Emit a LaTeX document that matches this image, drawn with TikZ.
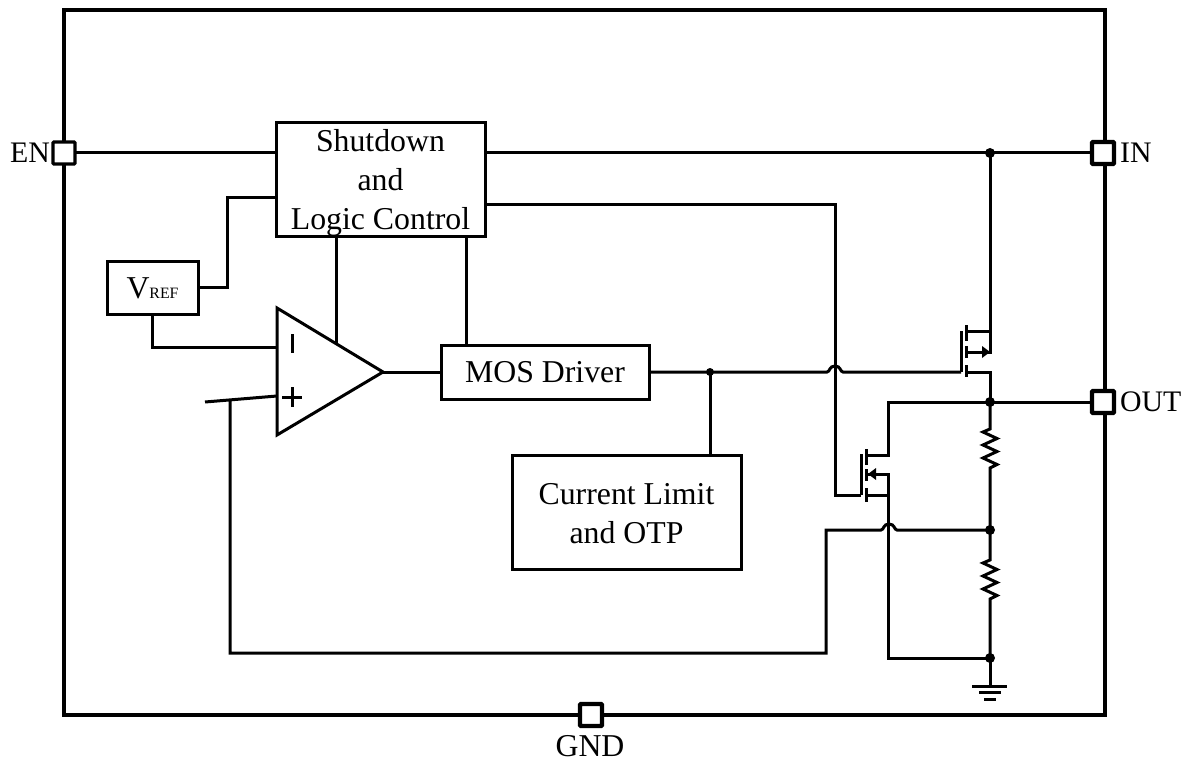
\documentclass[tikz,border=0pt]{standalone}
\usepackage{fontspec}
\setmainfont{Liberation Serif}
\begin{document}
\begin{tikzpicture}[x=1pt,y=-1pt,
  wire/.style={line width=3pt,line join=miter},
  frameline/.style={line width=4.6pt,line join=miter},
  blockbox/.style={draw,line width=3pt,fill=white,inner sep=0pt,align=center,font=\fontsize{31.8}{39}\selectfont},
  padbox/.style={draw,line width=3.2pt,fill=white,minimum size=22pt,inner sep=0pt,rounded corners=1pt},
  padheavy/.style={padbox,line width=4.4pt},
  pinlabel/.style={inner sep=0pt,font=\fontsize{29.8}{36}\selectfont},
  gndlabel/.style={inner sep=0pt,font=\fontsize{31.8}{38}\selectfont},
  joint/.style={circle,fill=black,draw=none,minimum size=10pt,inner sep=0pt},
  gnode/.style={inner sep=0pt,minimum size=0pt}]
\useasboundingbox (0,0) rectangle (1192,762);
\fill[white] (0,0) rectangle (1192,762);

% outer frame
\draw[frameline] (64,10) rectangle (1105,715);

% blocks
\node[blockbox,minimum width=209pt,minimum height=113pt] (sd) at (380.5,179.5) {\rule{0pt}{29pt}Shutdown\\and\\Logic Control};
\node[blockbox,minimum width=91pt,minimum height=53pt] (vref) at (152.5,288) {V{\fontsize{15.8}{20}\selectfont REF}};
\node[blockbox,minimum width=208pt,minimum height=54pt] (mos) at (545,372) {MOS Driver};
\node[blockbox,minimum width=229pt,minimum height=114pt] (cl) at (626.5,512) {\rule{0pt}{24pt}Current Limit\\and OTP};

% junctions
\node[joint] (jin) at (990,153) {};
\node[joint] (jout) at (990,402) {};
\node[joint] (jfb) at (990,530) {};
\node[joint] (jgnd) at (990,658) {};
\node[joint,minimum size=8pt] (jdrv) at (710,372) {};

% op amp
\coordinate (oatop) at (277,308);
\coordinate (oabot) at (277,435);
\coordinate (oaout) at (383,372);
\coordinate (oaminus) at (277,347);
\coordinate (oaplus) at (277,396);
\coordinate (oatap) at (336,343);
\coordinate (plusend) at (205,402);
\coordinate (plusknee) at (230,400);
\draw[wire,line join=miter] (oatop) -- (oaout) -- (oabot) -- cycle;
\draw[wire] (292,334) -- (292,353);
\draw[wire] (282,397) -- (302,397) (292,387) -- (292,407);

% pads' wires
\coordinate (enin) at (76,153);
\draw[wire] (enin) -- (sd.west|-enin);
\draw[wire] (sd.east|-jin) -- (jin.center) -- (1092,153);
\draw[wire] (jout.center) -- (1092,402);

% control wires
\coordinate (k1) at (227,288);
\coordinate (k2) at (227,198);
\draw[wire] (vref.east|-k1) -- (k1) -- (k2) -- (sd.west|-k2);
\coordinate (k3) at (152,347);
\draw[wire] (vref.south-|k3) -- (k3) -- (oaminus);
\draw[wire] (sd.south-|oatap) -- (oatap);
\coordinate (k4) at (466,300);
\draw[wire] (sd.south-|k4) -- (mos.north-|k4);
\draw[wire] (oaout) -- (mos.west|-oaout);

% plus input feedback
\draw[wire] (plusend) -- (oaplus);
\coordinate (k5) at (230,653);
\coordinate (k6) at (826,653);
\coordinate (k7) at (826,530);
\draw[wire] (plusknee) -- (k5) -- (k6) -- (k7) -- (881,530)
  .. controls (884,530) and (883,524) .. (889,524)
  .. controls (895,524) and (894,530) .. (897,530) -- (jfb.center);

% driver output with hop
\coordinate (g1) at (961,372);
\draw[wire] (mos.east|-jdrv) -- (jdrv.center) -- (827,372)
  .. controls (830,372) and (829,366) .. (835,366)
  .. controls (841,366) and (840,372) .. (843,372) -- (g1);
\draw[wire] (jdrv.center) -- (cl.north-|jdrv);

% gate of lower FET
\coordinate (k8) at (835,205);
\coordinate (k9) at (835,495);
\coordinate (g2) at (861,495);
\draw[wire] (sd.east|-k8) -- (k8) -- (k9) -- (g2);

% upper FET
\draw[wire] (961,331) -- (g1);
\draw[wire] (966,325) -- (966,341) (966,346) -- (966,358) (966,365) -- (966,377);
\draw[wire] (jin.center) -- (990,352) -- (966,352);
\draw[wire] (966,331) -- (990,331);
\draw[wire] (966,372) -- (990,372) -- (jout.center);
\fill (982,346) -- (990,352) -- (982,358) -- cycle;

% lower FET
\draw[wire] (861,454) -- (g2);
\draw[wire] (866,449) -- (866,465) (866,469) -- (866,481) (866,488) -- (866,502);
\draw[wire] (jout.center) -- (888,402) -- (888,455) -- (866,455);
\draw[wire] (866,474) -- (888,474) -- (888,658) -- (jgnd.center);
\draw[wire] (866,495) -- (888,495);
\fill (868,474) -- (876,468) -- (876,480) -- cycle;

% resistors
\draw[wire] (jout.center) -- (990,429) -- (983,432) -- (997,438.5) -- (983,445) -- (997,451.5) -- (983,458) -- (997,464.5) -- (990,468) -- (jfb.center);
\draw[wire] (jfb.center) -- (990,560) -- (983,563) -- (997,569.5) -- (983,576) -- (997,582.5) -- (983,589) -- (997,595.5) -- (990,599) -- (jgnd.center);

% ground
\coordinate (gndtop) at (990,686);
\draw[wire] (jgnd.center) -- (gndtop);
\draw[wire] (972,686) -- (1007,686);
\draw[wire] (979,692.5) -- (1001,692.5);
\draw[wire] (984,699) -- (996,699);

% pads
\node[padbox] (pen) at (64,153) {};
\node[padheavy] (pin) at (1103,153) {};
\node[padheavy] (pout) at (1103,402) {};
\node[padheavy] (pgnd) at (591,715) {};

% pin labels
\node[pinlabel,anchor=east] (len) at (50,153) {EN};
\node[pinlabel,anchor=west] (lin) at (1120,153) {IN};
\node[pinlabel,anchor=west] (lout) at (1120,402) {OUT};
\node[gndlabel] (lgnd) at (590,746) {GND};
\end{tikzpicture}
\end{document}
